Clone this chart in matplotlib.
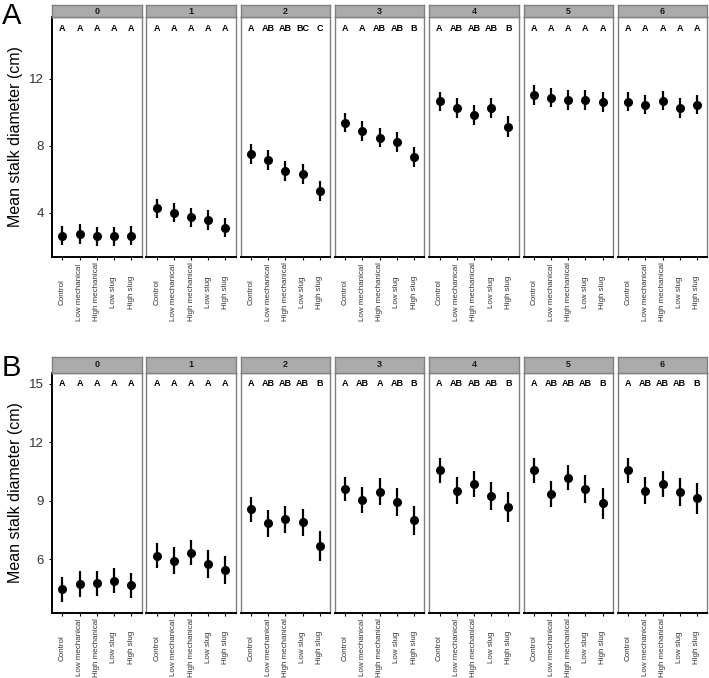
import matplotlib
matplotlib.use("Agg")
import matplotlib.pyplot as plt

plt.rcParams['font.family'] = ['Liberation Sans', 'DejaVu Sans']

# Daten
treatments = ["Control", "Low mechanical", "High mechanical", "Low slug", "High slug"]
weeks = ["0", "1", "2", "3", "4", "5", "6"]

a_means = [[2.65, 2.75, 2.60, 2.60, 2.65],
           [4.28, 4.02, 3.74, 3.58, 3.12],
           [7.54, 7.18, 6.50, 6.30, 5.30],
           [9.40, 8.90, 8.50, 8.24, 7.34],
           [10.66, 10.26, 9.84, 10.26, 9.16],
           [11.04, 10.88, 10.74, 10.74, 10.60],
           [10.64, 10.46, 10.70, 10.26, 10.46]]
a_err = [[0.58, 0.58, 0.58, 0.58, 0.58],
         [0.58, 0.58, 0.58, 0.58, 0.58],
         [0.60, 0.60, 0.60, 0.60, 0.60],
         [0.58, 0.58, 0.58, 0.58, 0.60],
         [0.58, 0.58, 0.58, 0.58, 0.60],
         [0.58, 0.58, 0.58, 0.58, 0.60],
         [0.58, 0.58, 0.58, 0.58, 0.58]]
a_letters = [["A", "A", "A", "A", "A"],
             ["A", "A", "A", "A", "A"],
             ["A", "AB", "AB", "BC", "C"],
             ["A", "A", "AB", "AB", "B"],
             ["A", "AB", "AB", "AB", "B"],
             ["A", "A", "A", "A", "A"],
             ["A", "A", "A", "A", "A"]]

b_means = [[4.46, 4.73, 4.77, 4.90, 4.67],
           [6.19, 5.93, 6.34, 5.76, 5.45],
           [8.58, 7.85, 8.05, 7.90, 6.68],
           [9.61, 9.04, 9.47, 8.93, 8.00],
           [10.57, 9.53, 9.87, 9.27, 8.70],
           [10.57, 9.35, 10.19, 9.63, 8.87],
           [10.57, 9.53, 9.87, 9.46, 9.13]]
b_err = [[0.63, 0.65, 0.65, 0.65, 0.65],
         [0.63, 0.68, 0.65, 0.70, 0.72],
         [0.64, 0.68, 0.68, 0.70, 0.77],
         [0.64, 0.68, 0.68, 0.72, 0.76],
         [0.64, 0.68, 0.65, 0.72, 0.76],
         [0.64, 0.68, 0.65, 0.72, 0.78],
         [0.64, 0.68, 0.65, 0.72, 0.78]]
b_letters = [["A", "A", "A", "A", "A"],
             ["A", "A", "A", "A", "A"],
             ["A", "AB", "AB", "AB", "B"],
             ["A", "AB", "A", "AB", "B"],
             ["A", "AB", "AB", "AB", "B"],
             ["A", "AB", "AB", "AB", "B"],
             ["A", "AB", "AB", "AB", "B"]]

W, H = 709, 678
fig = plt.figure(figsize=(W / 100, H / 100), dpi=100)


def px(x, y, w, h):
    # Pixel -> Figurkoordinaten
    return [x / W, 1 - (y + h) / H, w / W, h / H]


def panel(label, means, errs, letters, top, bottom, strip_top, ylim, yticks):
    x = list(range(1, len(treatments) + 1))
    for i, wk in enumerate(weeks):
        left = 52 + i * 94.3
        width = 89.5
        ax = fig.add_axes(px(left, top, width, bottom - top))
        ax.errorbar(x, means[i], yerr=errs[i], fmt='o', color='black',
                    markersize=5.5, elinewidth=1.6, capsize=0)
        for xi, let in zip(x, letters[i]):
            ax.text(xi, 15, let, ha='center', va='center', fontsize=6.5,
                    fontweight='bold')
        ax.set_xlim(0.4, 5.6)
        ax.set_ylim(*ylim)
        ax.set_xticks(x)
        ax.set_xticklabels(treatments, rotation=90, fontsize=5.8, color='#333333',
                           va='center', ha='center')
        for s in ['top', 'right', 'left']:
            ax.spines[s].set_color('#808080')
            ax.spines[s].set_linewidth(1.0)
        ax.spines['bottom'].set_color('black')
        ax.spines['bottom'].set_linewidth(1.4)
        ax.tick_params(axis='x', length=2.5, width=0.8, pad=22.7)
        if i == 0:
            ax.spines['left'].set_color('black')
            ax.spines['left'].set_linewidth(1.4)
            ax.set_yticks(yticks)
            ax.tick_params(axis='y', labelsize=9.5, length=2.5, width=0.8,
                           labelcolor='#333333')
            ax.set_ylabel("Mean stalk diameter (cm)", fontsize=11.5, labelpad=4)
        else:
            ax.set_yticks([])
        # Streifen oben
        sax = fig.add_axes(px(left, strip_top, width, top - strip_top))
        sax.set_facecolor('#ABABAB')
        sax.set_xticks([])
        sax.set_yticks([])
        for s in sax.spines.values():
            s.set_color('#808080')
            s.set_linewidth(1.0)
        sax.text(0.5, 0.5, wk, ha='center', va='center', fontsize=6.5,
                 fontweight='bold', color='#1A1A1A', transform=sax.transAxes)
    fig.text(2 / W, 1 - (strip_top - 3) / H, label, fontsize=21, va='top', ha='left')


panel("A", a_means, a_err, a_letters, 17, 257, 5, (1.37, 15.7), [4, 8, 12])
panel("B", b_means, b_err, b_letters, 372.7, 612.7, 357, (3.26, 15.58), [6, 9, 12, 15])

fig.savefig("out.png", dpi=100)
